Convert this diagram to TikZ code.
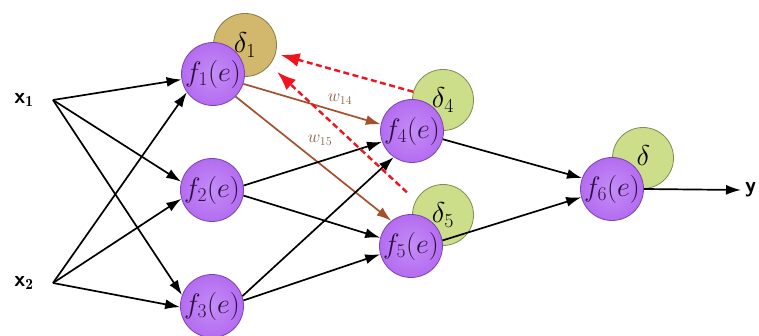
\documentclass[tikz,border=0pt]{standalone}
\usepackage{fontspec}
\usetikzlibrary{arrows.meta}
\definecolor{neuronfill}{HTML}{B46CF0}
\definecolor{neuroninner}{HTML}{C48CF6}
\definecolor{neuronedge}{HTML}{7A44B4}
\definecolor{tanfill}{HTML}{D2B86C}
\definecolor{tanedge}{HTML}{8E7A44}
\definecolor{greenfill}{HTML}{CCDE8A}
\definecolor{greenedge}{HTML}{7E8E52}
\definecolor{weightbrown}{HTML}{A4502C}
\definecolor{weighttext}{HTML}{8A6048}
\definecolor{errred}{HTML}{F0141E}
\definecolor{labeldark}{HTML}{2A1040}
\newcommand{\neuronlabel}[1]{\scalebox{1.13}{$f_{#1}(e)$}}
\newcommand{\errlabel}[1]{\scalebox{1.15}{$\delta_{#1}$}}
\begin{document}
\begin{tikzpicture}[x=1pt,y=-1pt,
  neuron/.style={circle, minimum size=63pt, inner sep=0pt,
    inner color=neuroninner, outer color=neuronfill,
    draw=neuronedge, line width=0.8pt, text=labeldark,
    font=\fontsize{24}{28}\selectfont},
  errtan/.style={circle, minimum size=63pt, inner sep=0pt,
    fill=tanfill, draw=tanedge, line width=0.8pt,
    font=\fontsize{24}{28}\selectfont},
  errgreen/.style={circle, minimum size=61pt, inner sep=0pt,
    fill=greenfill, draw=greenedge, line width=0.8pt,
    font=\fontsize{24}{28}\selectfont},
  inlabel/.style={font=\fontsize{22}{26}\selectfont\sffamily\bfseries, inner sep=0pt},
  link/.style={-{Latex[length=15pt,width=10pt]}, line width=1.7pt, black},
  wlink/.style={-{Latex[length=15pt,width=10pt]}, line width=1.7pt, weightbrown},
  backprop/.style={-{Latex[length=19pt,width=14pt]}, line width=2.4pt, errred,
    dash pattern=on 6pt off 3.5pt},
  wlabel/.style={text=weighttext, font=\fontsize{17}{20}\selectfont, inner sep=0pt}
]
\useasboundingbox (0,0) rectangle (759,336);

% error terms, sitting behind the neurons
\node[errtan]   (d1) at (245,45)  {\raisebox{-2pt}{\errlabel{1}}};
\node[errgreen] (d4) at (443,100) {\errlabel{4}};
\node[errgreen] (d5) at (443,215) {\errlabel{5}};
\node[errgreen] (d6) at (643,158) {\errlabel{}};

% neurons
\node[neuron] (f1) at (213,74)  {\neuronlabel{1}};
\node[neuron] (f2) at (212,190) {\neuronlabel{2}};
\node[neuron] (f3) at (212,306) {\neuronlabel{3}};
\node[neuron] (f4) at (412,131) {\neuronlabel{4}};
\node[neuron] (f5) at (411,246) {\neuronlabel{5}};
\node[neuron] (f6) at (612,189) {\neuronlabel{6}};

% inputs and output
\node[inlabel] (x1lab) at (24,100) {x$_{\mathbf 1}$};
\node[inlabel] (x2lab) at (24,283) {x$_{\mathbf 2}$};
\coordinate (x1) at (53,100);
\coordinate (x2) at (53,283);
\coordinate (yend) at (741,190);
\node[inlabel, anchor=west] (ylab) at (745,190) {y};

% input layer connections
\draw[link] (x1) -- (f1.190);
\draw[link] (x1) -- (f2.165);
\draw[link] (x1) -- (f3.160);
\draw[link] (x2) -- (f1.215);
\draw[link] (x2) -- (f2.196);
\draw[link] (x2) -- (f3.182);

% hidden layer connections
\draw[wlink] (f1.-18) -- (f4.168);
\draw[wlink] (f1.-45) -- (f5.128);
\draw[link] (f2.8) -- (f4.200);
\draw[link] (f2.-10) -- (f5.165);
\draw[link] (f3.18) -- (f4.235);
\draw[link] (f3.10) -- (f5.195);
\draw[link] (f4.-15) -- (f6.160);
\draw[link] (f5.10) -- (f6.195);
\draw[link] (f6.east) -- (yend);

% weight labels
\node[wlabel] (w14) at (340,99) {$w_{14}$};
\node[wlabel] (w15) at (320,140) {$w_{15}$};

% back-propagated error signals
\draw[backprop, shorten >=5pt] (d4) -- (d1);
\draw[backprop, shorten <=12pt, shorten >=10pt] (d5.152) -- (d1.-39);
\end{tikzpicture}
\end{document}
